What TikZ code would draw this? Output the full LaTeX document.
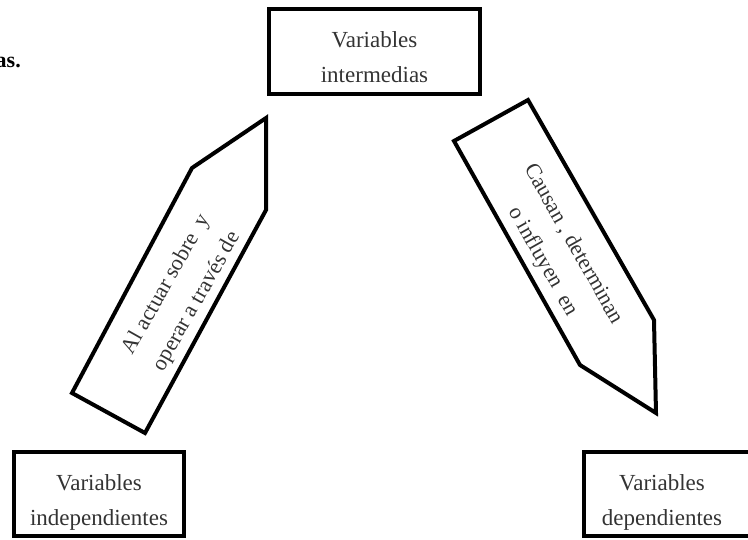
\documentclass[tikz,border=0pt]{standalone}
\usepackage{fontspec}
\setmainfont{Liberation Serif}
\begin{document}
\begin{tikzpicture}[x=1pt,y=-1pt,
  frame/.style={draw=black, line width=4pt, inner sep=0pt},
  txt/.style={text=black!80, font=\fontsize{23}{35}\selectfont, align=center, inner sep=0pt},
  arrowtxt/.style={txt, font=\fontsize{22}{35}\selectfont},
  boxtxt/.style={txt, text height=62pt, text depth=0pt},
  arrowshape/.style={draw=black, line width=4pt, line join=miter},
]
\useasboundingbox (0,0) rectangle (748,539);

\node[font=\fontsize{22}{26}\selectfont\bfseries, anchor=base east, inner sep=0pt] (cut) at (21,67) {as.};

\node[frame, boxtxt, minimum width=211pt, minimum height=85pt] (inter) at (374.5,51.5) {Variables\\intermedias};
\node[frame, boxtxt, minimum width=170pt, minimum height=84pt] (indep) at (99,494) {Variables\\independientes};
\node[frame, minimum width=186pt, minimum height=84pt] (dep) at (677,494) {};
\node[boxtxt] (deptxt) at (662,494) {Variables\\dependientes};

\draw[arrowshape] (266,118) -- (266,210) -- (145,433) -- (72,393) -- (192,168) -- cycle;
\node[arrowtxt, rotate=60.5] (lefttxt) at (182,293) {Al actuar sobre\ \ y\\operar a través de};

\draw[arrowshape] (454,141) -- (528,100) -- (654,320) -- (656,413) -- (580,365) -- cycle;
\node[arrowtxt, rotate=-60.4] (righttxt) at (558,253) {Causan , determinan\\o influyen\ \ en};
\end{tikzpicture}
\end{document}
